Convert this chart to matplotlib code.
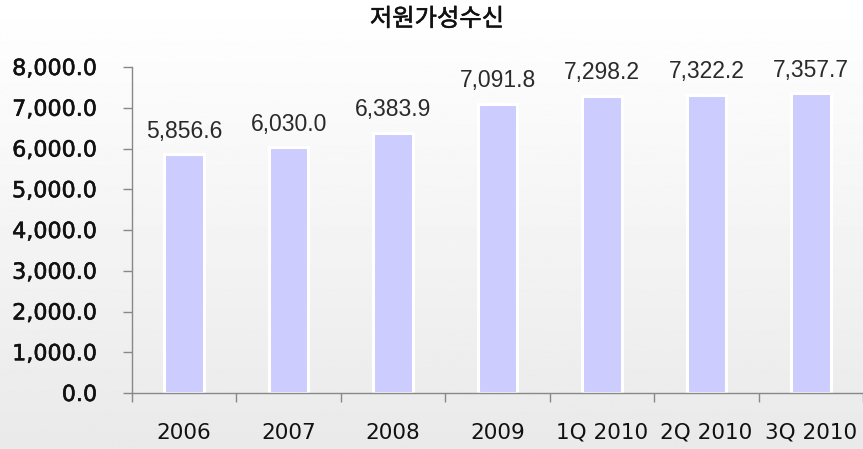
import numpy as np
import matplotlib.pyplot as plt
import matplotlib.patheffects as pe

# Data
categories = ["2006", "2007", "2008", "2009", "1Q 2010", "2Q 2010", "3Q 2010"]
values = [5856.6, 6030.0, 6383.9, 7091.8, 7298.2, 7322.2, 7357.7]
y_ticks = [0, 1000, 2000, 3000, 4000, 5000, 6000, 7000, 8000]
title = "저원가성수신"

W, H = 863, 449
fig = plt.figure(figsize=(W / 100, H / 100), dpi=100)

# background gradient
bg = fig.add_axes([0, 0, 1, 1], zorder=-10)
grad = np.linspace(1.0, 0.915, 256).reshape(-1, 1)
bg.imshow(grad, aspect="auto", cmap="gray", vmin=0, vmax=1, extent=[0, 1, 0, 1])
bg.axis("off")

# plot area: left 132px, bottom y=393px, top y=67px
left, right = 132 / W, 863 / W
bottom, top = (H - 393) / H, (H - 67) / H
ax = fig.add_axes([left, bottom, right - left, top - bottom])
ax.patch.set_alpha(0)

x = np.arange(len(categories))
ax.bar(x, values, width=0.38, color="#ccccff", edgecolor="white",
       linewidth=2.2, zorder=2)

# value labels
for xi, v in zip(x, values):
    ax.annotate(f"{v:,.1f}", (xi, v), xytext=(0, 12), textcoords="offset points",
                ha="center", va="baseline", fontsize=16.5, color="#2a2a2a",
                family="Liberation Sans")

ax.set_xlim(-0.5, 6.5 - 4 / 105)
ax.set_ylim(0, 8000)

thick = [pe.withStroke(linewidth=0.4, foreground="#111111")]

ax.set_yticks(y_ticks)
ax.set_yticklabels([f"{t:,.1f}" for t in y_ticks])
ax.tick_params(axis="y", length=6.5, width=1, color="#888888", pad=18.5,
               labelsize=16, labelcolor="#111111")
for lab in ax.get_yticklabels():
    lab.set_path_effects(thick)

ax.set_xticks(x)
ax.set_xticklabels(categories)
ax.set_xticks(np.arange(-0.5, 7, 1.0), minor=True)
ax.tick_params(axis="x", which="major", length=0, pad=21.5, labelsize=15.5,
               labelcolor="#111111")
ax.tick_params(axis="x", which="minor", length=6.5, width=1, color="#888888")

for s in ["top", "right"]:
    ax.spines[s].set_visible(False)
for s in ["left", "bottom"]:
    ax.spines[s].set_color("#888888")
    ax.spines[s].set_linewidth(1)

fig.text(437 / W, 1 - 19 / H, title, ha="center", va="center", fontsize=17.5,
         family=["Noto Sans CJK KR", "DejaVu Sans"], color="#111111",
         path_effects=thick)

fig.savefig("out.png", dpi=100)
